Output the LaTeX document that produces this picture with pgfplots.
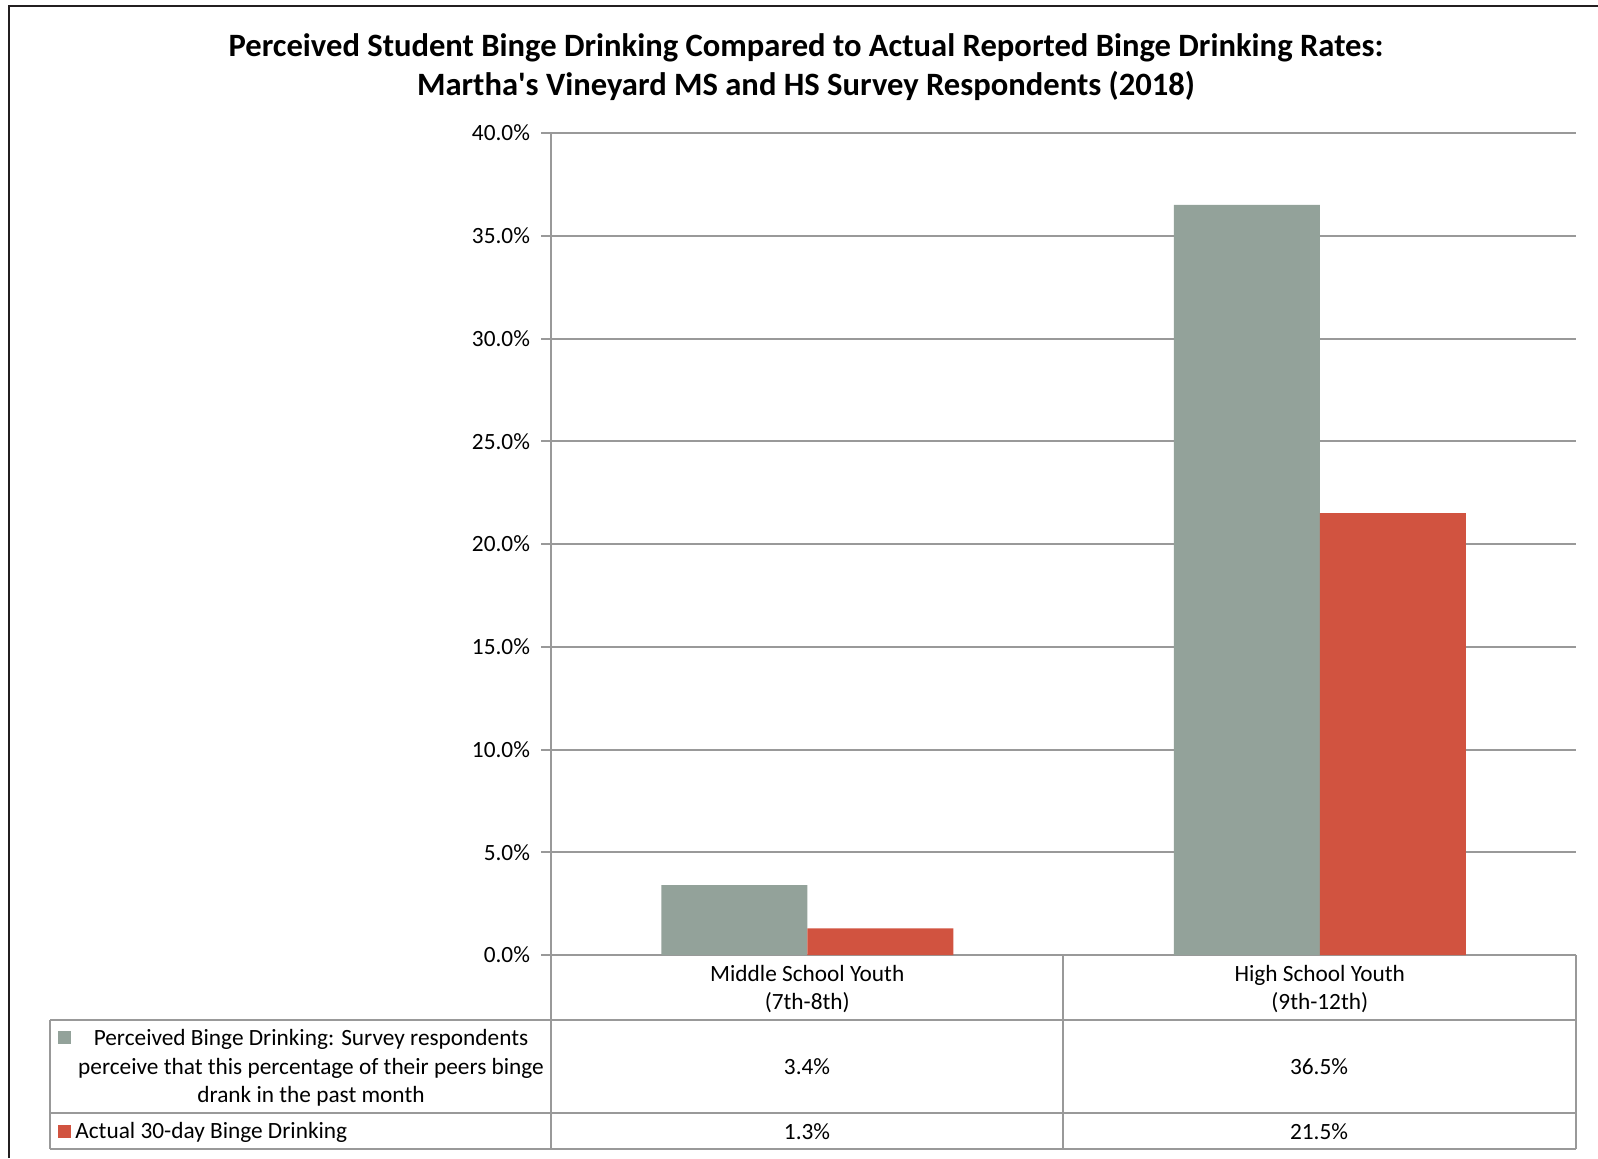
\documentclass[border=0pt]{standalone}
\usepackage{fontspec}
\setmainfont{Carlito}[Ligatures=TeXOff]
\usepackage{pgfplots}
\pgfplotsset{compat=1.18}
\definecolor{bargray}{RGB}{147,162,154}
\definecolor{barred}{RGB}{209,83,64}
\definecolor{gridgray}{RGB}{153,153,153}
\definecolor{framecol}{RGB}{35,31,32}
\begin{document}
\begin{tikzpicture}
\begin{scope}[x=0.5pt,y=-0.5pt]
\path[use as bounding box] (0,0) rectangle (1598,1158);
% outer frame
\draw[framecol,line width=1.3pt] (9,1158) -- (9,6) -- (1598,6);
% title
\node[font=\fontsize{16.3}{19.5}\selectfont\bfseries,align=center] at (806,67)
 {Perceived Student Binge Drinking Compared to Actual Reported Binge Drinking Rates:\\Martha's Vineyard MS and HS Survey Respondents (2018)};
\end{scope}
\begin{axis}[
  at={(275.5pt,-477.5pt)}, anchor=south west,
  scale only axis, width=512.5pt, height=411pt,
  xmin=-0.5, xmax=1.5, ymin=0, ymax=40,
  ybar=0pt, bar width=73pt,
  axis x line*=bottom, axis y line*=left,
  axis line style={draw=gridgray,line width=1pt,-},
  xtick={0,1},
  xticklabels={{Middle School Youth\\(7th-8th)},{High School Youth\\(9th-12th)}},
  x tick style={draw=none},
  xticklabel style={align=center,font=\fontsize{11.65}{14.25}\selectfont,yshift=3.6pt},
  ytick={0,5,...,40},
  yticklabel={\pgfmathprintnumber[fixed,fixed zerofill,precision=1,assume math mode=true]{\tick}\%},
  yticklabel style={font=\fontsize{11.65}{14.25}\selectfont,xshift=-2pt},
  tick align=outside, major tick length=5pt,
  y tick style={draw=gridgray,line width=1pt},
  ymajorgrids, grid style={draw=gridgray,line width=1pt},
]
\addplot[fill=bargray,draw=none] coordinates {(0,3.4) (1,36.5)};
\addplot[fill=barred,draw=none] coordinates {(0,1.3) (1,21.5)};
\end{axis}
\begin{scope}[x=0.5pt,y=-0.5pt]
% data table
\draw[gridgray,line width=1pt] (551,955) -- (551,1149);
\draw[gridgray,line width=1pt] (1063,955) -- (1063,1149);
\draw[gridgray,line width=1pt] (1576,955) -- (1576,1149);
\draw[gridgray,line width=1pt] (50,1020) -- (1576,1020);
\draw[gridgray,line width=1pt] (50,1113) -- (1576,1113);
\draw[gridgray,line width=1pt] (50,1149) -- (1576,1149);
\draw[gridgray,line width=1pt] (50,1020) -- (50,1149);
\fill[bargray] (58,1031) rectangle (71,1044);
\fill[barred] (58,1125) rectangle (71,1138);
\node[font=\fontsize{11.65}{14.25}\selectfont,align=center] at (311,1068)
 {Perceived Binge Drinking: Survey respondents\\perceive that this percentage of their peers binge\\drank in the past month};
\node[font=\fontsize{11.65}{14.25}\selectfont,anchor=west,inner sep=0pt] at (75,1132) {Actual 30-day Binge Drinking};
\node[font=\fontsize{11.65}{14.25}\selectfont] at (807,1067) {3.4\%};
\node[font=\fontsize{11.65}{14.25}\selectfont] at (1319,1067) {36.5\%};
\node[font=\fontsize{11.65}{14.25}\selectfont] at (807,1132) {1.3\%};
\node[font=\fontsize{11.65}{14.25}\selectfont] at (1319,1132) {21.5\%};
\end{scope}
\end{tikzpicture}
\end{document}
